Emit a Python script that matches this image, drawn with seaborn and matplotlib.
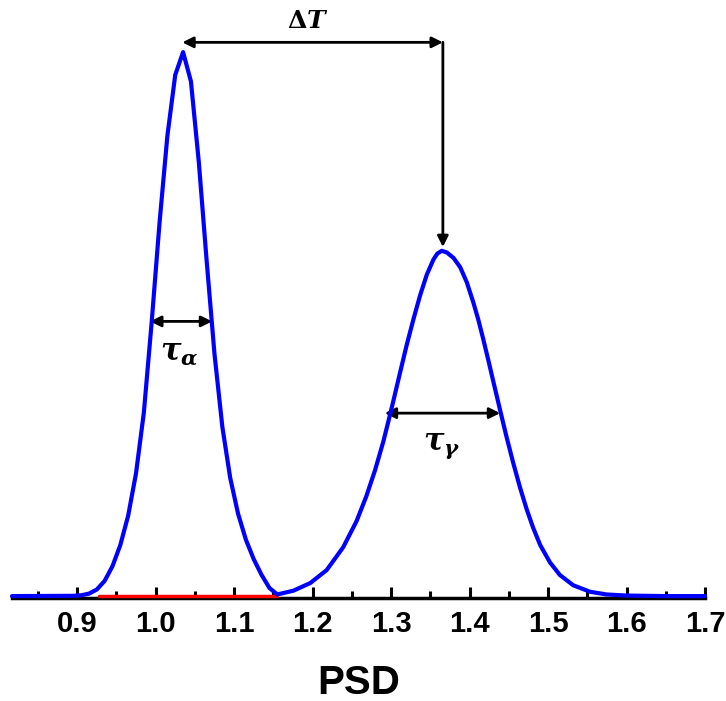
import numpy as np
import pandas as pd
import matplotlib
matplotlib.use("Agg")
import matplotlib.pyplot as plt
import seaborn as sns

# PSD curve (relative intensity, first peak = 100)
psd_x = [0.817, 0.895, 0.905, 0.915, 0.925, 0.935, 0.945, 0.955, 0.965, 0.975,
         0.985, 0.995, 1.005, 1.015, 1.025, 1.035, 1.045, 1.055, 1.065, 1.075,
         1.085, 1.095, 1.105, 1.115, 1.125, 1.135, 1.145, 1.155, 1.1756, 1.197,
         1.218, 1.239, 1.256, 1.2685, 1.2796, 1.290, 1.2966, 1.303, 1.3115, 1.320,
         1.3285, 1.337, 1.3455, 1.354, 1.359, 1.3646, 1.371, 1.3795, 1.388, 1.3965,
         1.405, 1.411, 1.4175, 1.424, 1.430, 1.441, 1.447, 1.4557, 1.4643, 1.473,
         1.481, 1.490, 1.5025, 1.515, 1.532, 1.5535, 1.5745, 1.600, 1.650, 1.700]
psd_y = [0.0, 0.05, 0.15, 0.45, 1.2, 2.8, 5.5, 9.4, 14.8, 22.6,
         33.8, 50.5, 68.8, 84.8, 96.0, 100.2, 94.8, 80.0, 61.8, 44.6,
         31.2, 21.8, 15.2, 10.4, 6.8, 3.9, 1.5, 0.3, 1.0, 2.4,
         4.8, 9.0, 13.8, 18.4, 23.2, 28.4, 32.2, 36.0, 41.2, 46.3,
         51.0, 55.4, 59.2, 62.0, 63.1, 63.6, 63.3, 62.3, 60.6, 57.8,
         54.0, 51.0, 47.3, 43.4, 39.7, 33.0, 29.4, 24.5, 20.0, 15.9,
         12.6, 9.4, 6.2, 3.9, 2.0, 0.8, 0.3, 0.1, 0.0, 0.0]

# red baseline segment between the peaks
red_x = [0.928, 1.155]
red_y = [0.0, 0.0]

tick_values = [0.9, 1.0, 1.1, 1.2, 1.3, 1.4, 1.5, 1.6, 1.7]
tick_labels = ["0.9", "1.0", "1.1", "1.2", "1.3", "1.4", "1.5", "1.6", "1.7"]

# annotation positions (data units)
delta_T_x = [1.034, 1.366]
delta_T_y = 102.0
vert_y = [102.0, 64.3]
tau_a_x = [0.993, 1.072]
tau_a_y = 50.6
tau_g_x = [1.292, 1.439]
tau_g_y = 33.7

sns.set_style("white")
plt.rcParams["font.family"] = ["Liberation Sans", "DejaVu Sans"]
plt.rcParams["mathtext.fontset"] = "custom"
plt.rcParams["mathtext.rm"] = "DejaVu Serif:bold"
plt.rcParams["mathtext.it"] = "DejaVu Serif:italic:bold"
plt.rcParams["mathtext.bf"] = "DejaVu Serif:bold"

fig = plt.figure(figsize=(7.26, 7.01), dpi=100)
ax = fig.add_axes([12 / 726, 1 - 598 / 701, (705 - 12) / 726, 598 / 701])

df = pd.DataFrame({"x": psd_x, "y": psd_y})
df_red = pd.DataFrame({"x": red_x, "y": red_y})
sns.lineplot(data=df_red, x="x", y="y", ax=ax, color="#ff0000", lw=2.5, zorder=3,
             clip_on=False)
sns.lineplot(data=df, x="x", y="y", ax=ax, color="#0000ff", lw=3, zorder=4,
             sort=False, clip_on=False)

ax.set_xlim(0.817, 1.7)
ax.set_ylim(-0.35, 109.8)
for s in ["top", "left", "right"]:
    ax.spines[s].set_visible(False)
ax.spines["bottom"].set_linewidth(2.5)
ax.spines["bottom"].set_color("black")
ax.spines["bottom"].set_zorder(2)

ax.set_xticks(tick_values)
ax.set_xticklabels(tick_labels, fontsize=21, fontweight="bold", color="black")
ax.set_xticks(np.arange(0.85, 1.7, 0.1), minor=True)
ax.tick_params(axis="x", which="major", direction="in", length=8, width=2.2,
               color="black", labelcolor="black", pad=9, bottom=True)
ax.tick_params(axis="x", which="minor", direction="in", length=5, width=2.2,
               color="black", bottom=True)
ax.set_yticks([])
ax.set_ylabel("")
ax.set_xlabel("PSD", fontsize=29, fontweight="bold", color="black", labelpad=18)

arrow_kw = dict(color="black", lw=2, mutation_scale=16)
ax.annotate("", xy=(delta_T_x[0], delta_T_y), xytext=(delta_T_x[1], delta_T_y),
            arrowprops=dict(arrowstyle="<|-|>", shrinkA=0, shrinkB=0, **arrow_kw),
            annotation_clip=False)
ax.annotate("", xy=(delta_T_x[1], vert_y[1]), xytext=(delta_T_x[1], vert_y[0]),
            arrowprops=dict(arrowstyle="-|>", shrinkA=0, shrinkB=0, **arrow_kw))
ax.annotate("", xy=(tau_a_x[0], tau_a_y), xytext=(tau_a_x[1], tau_a_y),
            arrowprops=dict(arrowstyle="<|-|>", shrinkA=0, shrinkB=0, **arrow_kw))
ax.annotate("", xy=(tau_g_x[0], tau_g_y), xytext=(tau_g_x[1], tau_g_y),
            arrowprops=dict(arrowstyle="<|-|>", shrinkA=0, shrinkB=0, **arrow_kw))

ax.text(1.194, 106.0, r"$\Delta T$", fontsize=18, color="black",
        ha="center", va="center")
ax.text(1.0295, 44.8, r"$\tau_{\alpha}$", fontsize=22, color="black",
        ha="center", va="center")
ax.text(1.365, 27.6, r"$\tau_{\gamma}$", fontsize=22, color="black",
        ha="center", va="center")

fig.savefig("out.png", dpi=100)
